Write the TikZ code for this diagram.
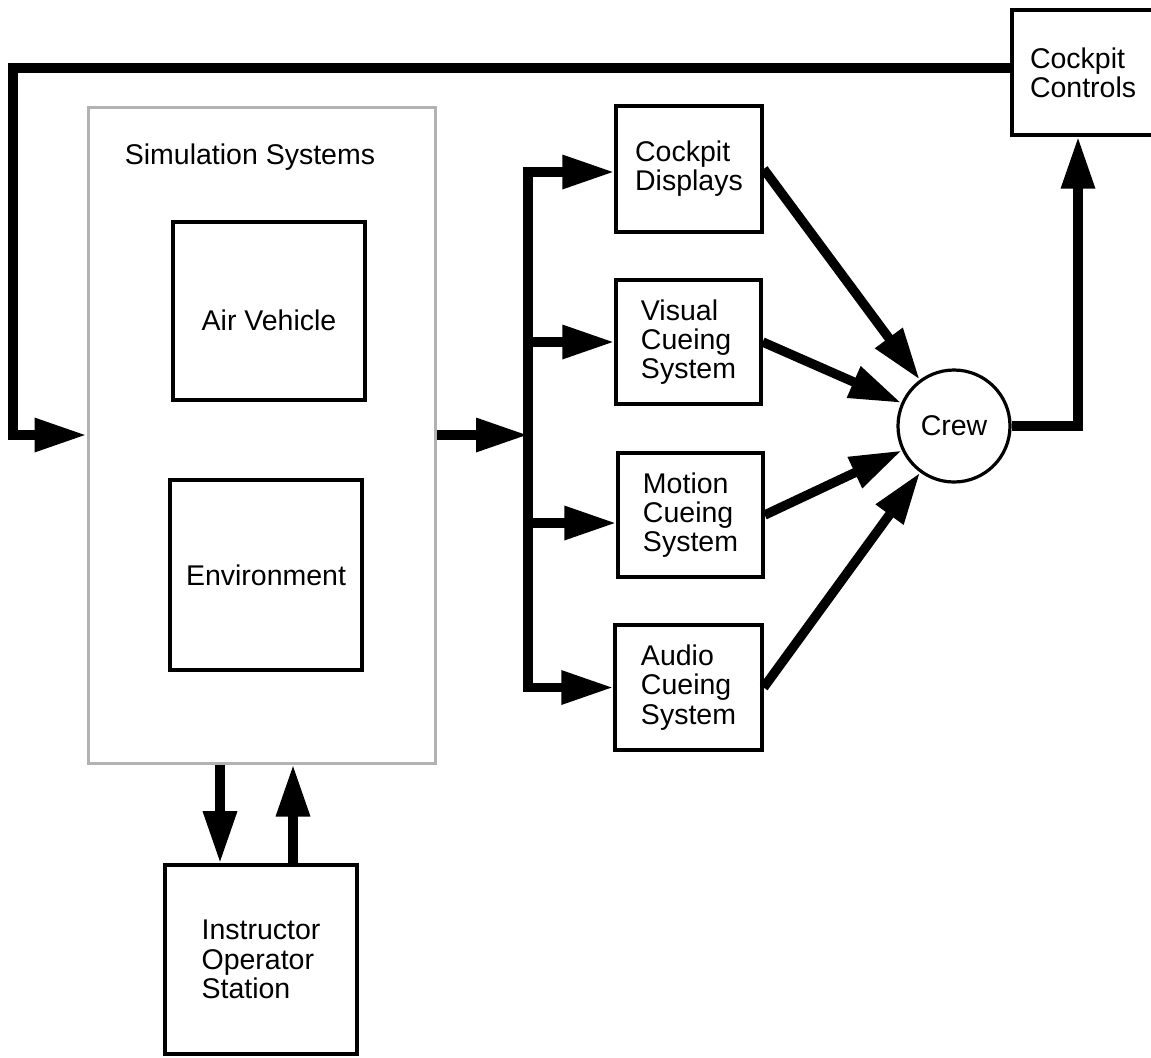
\documentclass[tikz,border=0pt]{standalone}
\usepackage{fontspec}
\setmainfont{Liberation Sans}
\usetikzlibrary{arrows.meta}
\begin{document}
\begin{tikzpicture}[x=0.5pt,y=-0.5pt,
  font=\fontsize{14.25pt}{14.6pt}\selectfont,
  >={Triangle[length=26pt,width=16pt]},
  box/.style={draw, rectangle, line width=1.7pt, inner sep=0pt, align=left},
  group/.style={draw=black!30, rectangle, line width=1.5pt, inner sep=0pt},
  flow/.style={line width=4.7pt, line join=miter, ->},
]
\useasboundingbox (0,0) rectangle (1151,1057);
\clip (0,0) rectangle (1151,1057);

% simulation systems group and its parts
\node[group, minimum width=173.5pt, minimum height=328pt] (sim) at (261.5,435) {};
\node (simlabel) at (250,157) {Simulation Systems};
\node[box, minimum width=96pt, minimum height=89pt] (air) at (269,311) {\raisebox{-4.5pt}[\height][\depth]{Air Vehicle}};
\node[box, minimum width=96pt, minimum height=95pt] (env) at (266,575) {Environment};

% cueing subsystems
\node[box, minimum width=73pt, minimum height=63pt] (disp) at (689,169) {Cockpit\\Displays};
\node[box, minimum width=72.5pt, minimum height=62pt] (vis) at (688.5,342) {Visual\\Cueing\\System};
\node[box, minimum width=72.5pt, minimum height=62pt] (mot) at (690.5,515) {Motion\\Cueing\\System};
\node[box, minimum width=73.5pt, minimum height=62.5pt] (aud) at (688.5,687.5) {Audio\\Cueing\\System};

% crew, controls, instructor station
\node[draw, circle, line width=1.6pt, minimum size=56pt, inner sep=0pt] (crew) at (954,426) {Crew};
\node[box, minimum width=76.5pt, minimum height=62.5pt, text width=58.5pt] (ctrl) at (1088.5,72.5) {Cockpit\\Controls};
\node[box, minimum width=96pt, minimum height=94.5pt, line width=1.8pt] (ios) at (261,959.5) {Instructor\\Operator\\Station};

% routing points
\coordinate (fbk) at (13,0);
\coordinate (bus) at (528,0);
\coordinate (up) at (1078,0);
\coordinate (dn) at (220,0);
\coordinate (ret) at (293,0);
\coordinate (ctrlin) at ([yshift=2.25pt]ctrl.west);
\coordinate (dispin) at ([yshift=-1.5pt]disp.west);
\coordinate (motin) at ([yshift=-4pt]mot.west);

% control feedback loop
\draw[flow] (ctrlin) -| (fbk |- sim.west) -- (sim.west);

% simulation output to the distribution bus
\draw[flow] (sim.east) -- (bus |- sim.east);
\draw[flow, <->] (dispin) -- (bus |- dispin) -- (bus |- aud.west) -- (aud.west);
\draw[flow] (bus |- vis.west) -- (vis.west);
\draw[flow] (bus |- motin) -- (motin);

% cues to the crew
\draw[flow] (disp.east) -- (crew);
\draw[flow] (vis.east) -- (crew);
\draw[flow] (mot.east) -- (crew);
\draw[flow] (aud.east) -- (crew);

% crew inputs to the controls
\draw[flow] (crew.east) -| (up |- ctrl.south);

% instructor station exchange
\draw[flow] (dn |- sim.south) -- (dn |- ios.north);
\draw[flow] (ret |- ios.north) -- (ret |- sim.south);
\end{tikzpicture}
\end{document}
